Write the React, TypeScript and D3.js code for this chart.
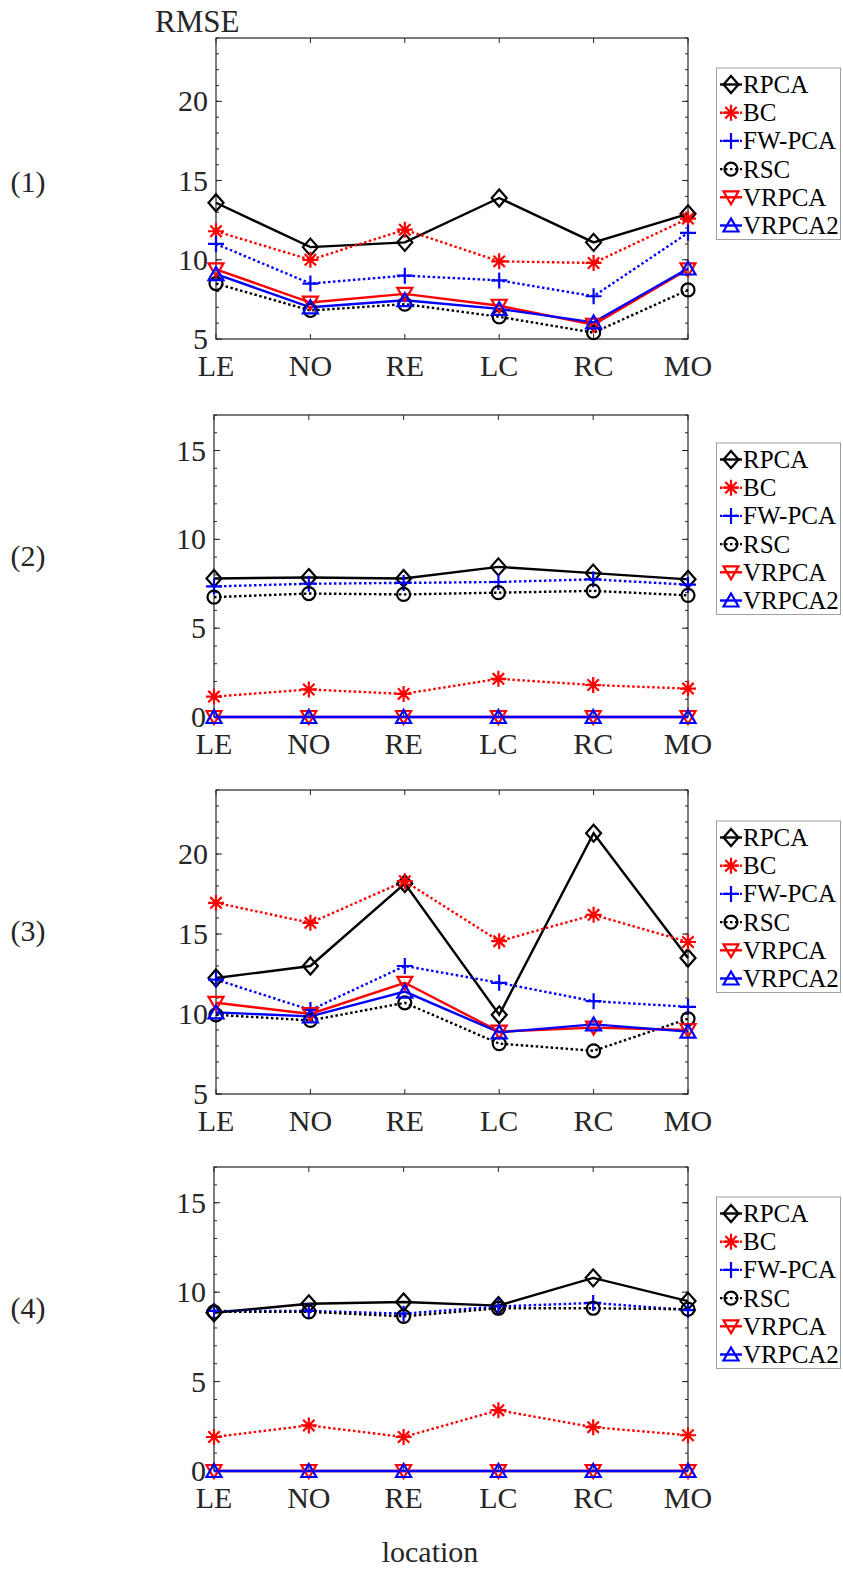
import React from "react";
import { scalePoint, scaleLinear, line, range } from "d3";

// categories along x
const locations = ["LE", "NO", "RE", "LC", "RC", "MO"];
const methods = ["RPCA", "BC", "FW-PCA", "RSC", "VRPCA", "VRPCA2"];

// panel (1)
const p1RPCA = [13.6, 10.8, 11.1, 13.9, 11.1, 12.9];
const p1BC = [11.8, 10.0, 11.9, 9.9, 9.8, 12.6];
const p1FW = [11.0, 8.5, 9.0, 8.7, 7.7, 11.7];
const p1RSC = [8.5, 6.8, 7.2, 6.4, 5.4, 8.1];
const p1VR = [9.4, 7.3, 7.85, 7.1, 5.9, 9.4];
const p1VR2 = [9.1, 7.0, 7.45, 6.9, 6.05, 9.45];

// panel (2)
const p2RPCA = [7.8, 7.85, 7.8, 8.45, 8.1, 7.75];
const p2BC = [1.15, 1.55, 1.3, 2.15, 1.8, 1.6];
const p2FW = [7.35, 7.5, 7.55, 7.6, 7.75, 7.45];
const p2RSC = [6.75, 6.95, 6.9, 7.0, 7.1, 6.85];
const p2VR = [0, 0, 0, 0, 0, 0];
const p2VR2 = [0, 0, 0, 0, 0, 0];

// panel (3)
const p3RPCA = [12.25, 13.0, 18.15, 9.95, 21.3, 13.5];
const p3BC = [16.95, 15.7, 18.3, 14.55, 16.2, 14.5];
const p3FW = [12.15, 10.25, 13.0, 11.95, 10.8, 10.45];
const p3RSC = [9.95, 9.6, 10.7, 8.15, 7.7, 9.7];
const p3VR = [10.7, 10.0, 11.95, 8.9, 9.15, 9.0];
const p3VR2 = [10.1, 9.85, 11.4, 8.85, 9.35, 8.9];

// panel (4)
const p4RPCA = [8.85, 9.35, 9.45, 9.25, 10.8, 9.5];
const p4BC = [1.9, 2.55, 1.9, 3.4, 2.45, 2.0];
const p4FW = [8.95, 8.95, 8.8, 9.2, 9.4, 9.0];
const p4RSC = [8.9, 8.9, 8.65, 9.1, 9.1, 9.05];
const p4VR = [0, 0, 0, 0, 0, 0];
const p4VR2 = [0, 0, 0, 0, 0, 0];

const ticksA = [5, 10, 15, 20];
const ticksB = [0, 5, 10, 15];

const styles = [
  { color: "#000000", dash: null, marker: "diamond" },
  { color: "#ff0000", dash: "2.5 2.5", marker: "star" },
  { color: "#0000ff", dash: "2.5 2.5", marker: "plus" },
  { color: "#000000", dash: "2.5 2.5", marker: "circle" },
  { color: "#ff0000", dash: null, marker: "down" },
  { color: "#0000ff", dash: null, marker: "up" },
];

const panels = [
  { label: "(1)", series: [p1RPCA, p1BC, p1FW, p1RSC, p1VR, p1VR2], domain: [5, 24], ticks: ticksA, left: 216, right: 688, top: 38, bottom: 339, legendTop: 68, labelY: 182 },
  { label: "(2)", series: [p2RPCA, p2BC, p2FW, p2RSC, p2VR, p2VR2], domain: [0, 17], ticks: ticksB, left: 214, right: 688, top: 415, bottom: 717, legendTop: 443, labelY: 556 },
  { label: "(3)", series: [p3RPCA, p3BC, p3FW, p3RSC, p3VR, p3VR2], domain: [5, 24], ticks: ticksA, left: 216, right: 688, top: 790, bottom: 1094, legendTop: 821, labelY: 931 },
  { label: "(4)", series: [p4RPCA, p4BC, p4FW, p4RSC, p4VR, p4VR2], domain: [0, 17], ticks: ticksB, left: 214, right: 688, top: 1167, bottom: 1471, legendTop: 1197, labelY: 1308 },
];

const axisColor = "#262626";
const font = "Liberation Serif, Times New Roman, serif";
const lw = 2.4;

function Marker({ type, x, y, color }: { type: string; x: number; y: number; color: string }) {
  const common = { fill: "none", stroke: color, strokeWidth: 2.2 };
  if (type === "diamond")
    return <path d={`M${x},${y - 8.5}L${x + 7.5},${y}L${x},${y + 8.5}L${x - 7.5},${y}Z`} {...common} />;
  if (type === "circle") return <circle cx={x} cy={y} r={6.5} {...common} />;
  if (type === "plus")
    return <path d={`M${x - 8},${y}H${x + 8}M${x},${y - 8}V${y + 8}`} {...common} />;
  if (type === "star")
    return (
      <path
        d={`M${x - 8},${y}H${x + 8}M${x},${y - 8}V${y + 8}M${x - 5.7},${y - 5.7}L${x + 5.7},${y + 5.7}M${x - 5.7},${y + 5.7}L${x + 5.7},${y - 5.7}`}
        {...common}
      />
    );
  if (type === "down")
    return <path d={`M${x - 7.5},${y - 6}L${x + 7.5},${y - 6}L${x},${y + 7}Z`} {...common} />;
  return <path d={`M${x - 7.5},${y + 6}L${x + 7.5},${y + 6}L${x},${y - 7}Z`} {...common} />;
}

function Panel({ p }: { p: (typeof panels)[number] }) {
  const x = scalePoint<string>().domain(locations).range([p.left, p.right]).padding(0);
  const y = scaleLinear().domain(p.domain).range([p.bottom, p.top]);
  const gen = line<number>()
    .x((_, i) => x(locations[i]) as number)
    .y((d) => y(d));
  const minor = range(p.domain[0], p.domain[1] + 0.001, 1);
  const lx = 720;
  const rowH = 28.2;
  return (
    <g>
      {/* minor y ticks */}
      {minor.map((v) => (
        <g key={"m" + v} stroke={axisColor} strokeWidth={1}>
          <line x1={p.left} x2={p.left + 3} y1={y(v)} y2={y(v)} />
          <line x1={p.right} x2={p.right - 3} y1={y(v)} y2={y(v)} />
        </g>
      ))}
      {p.ticks.map((v) => (
        <g key={"t" + v}>
          <line x1={p.left} x2={p.left + 6} y1={y(v)} y2={y(v)} stroke={axisColor} />
          <line x1={p.right} x2={p.right - 6} y1={y(v)} y2={y(v)} stroke={axisColor} />
          <text x={p.left - 8} y={y(v) + 10} textAnchor="end" fontSize={30} fill={axisColor} style={{ fontFamily: font }}>
            {v}
          </text>
        </g>
      ))}
      {locations.map((c) => (
        <g key={c}>
          <line x1={x(c)} x2={x(c)} y1={p.top} y2={p.top + 5} stroke={axisColor} />
          <line x1={x(c)} x2={x(c)} y1={p.bottom} y2={p.bottom - 5} stroke={axisColor} />
          <text x={x(c)} y={p.bottom + 37} textAnchor="middle" fontSize={30} fill={axisColor} style={{ fontFamily: font }}>
            {c}
          </text>
        </g>
      ))}
      <rect x={p.left} y={p.top} width={p.right - p.left} height={p.bottom - p.top} fill="none" stroke={axisColor} strokeWidth={1.2} />
      {p.series.map((s, k) => (
        <path
          key={"l" + k}
          d={gen(s) as string}
          fill="none"
          stroke={styles[k].color}
          strokeWidth={lw}
          strokeDasharray={styles[k].dash ?? undefined}
        />
      ))}
      {p.series.map((s, k) =>
        s.map((v, i) => (
          <Marker key={k + "-" + i} type={styles[k].marker} x={x(locations[i]) as number} y={y(v)} color={styles[k].color} />
        ))
      )}
      <text x={28} y={p.labelY + 10} textAnchor="middle" fontSize={30} fill={axisColor} style={{ fontFamily: font }}>
        {p.label}
      </text>
      {/* legend */}
      <rect x={716.5} y={p.legendTop} width={124} height={171.5} fill="#fff" stroke="#a0a0a0" strokeWidth={1} />
      {methods.map((m, k) => {
        const cy = p.legendTop + 16.5 + k * rowH;
        return (
          <g key={m}>
            <line x1={lx} x2={lx + 22} y1={cy} y2={cy} stroke={styles[k].color} strokeWidth={lw} strokeDasharray={styles[k].dash ?? undefined} />
            <Marker type={styles[k].marker} x={lx + 11} y={cy} color={styles[k].color} />
            <text x={lx + 23} y={cy + 8.5} fontSize={25} fill="#000" style={{ fontFamily: font }}>
              {m}
            </text>
          </g>
        );
      })}
    </g>
  );
}

export default function App() {
  return (
    <svg
      width={843}
      height={1571}
      style={{ position: "absolute", left: 0, top: 0, background: "#fff", fontFamily: font }}
    >
      <rect width={843} height={1571} fill="#fff" />
      <text x={155} y={32} fontSize={31} fill={axisColor} style={{ fontFamily: font }}>
        RMSE
      </text>
      {panels.map((p) => (
        <Panel key={p.label} p={p} />
      ))}
      <text x={430} y={1562} textAnchor="middle" fontSize={30} fill={axisColor} style={{ fontFamily: font }}>
        location
      </text>
    </svg>
  );
}
